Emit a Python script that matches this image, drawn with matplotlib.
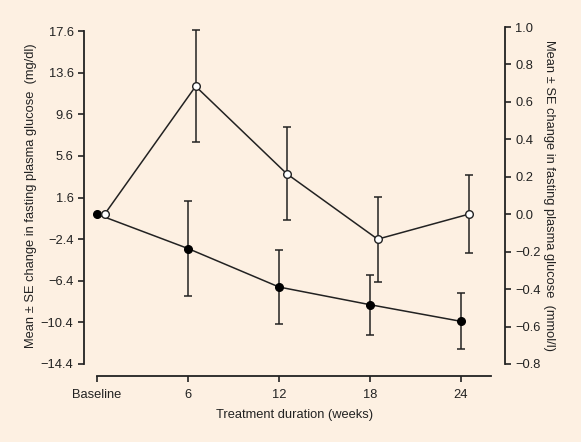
import numpy as np
import matplotlib.pyplot as plt

plt.rcParams['font.family'] = ['Liberation Sans', 'DejaVu Sans']

weeks = [0, 6, 12, 18, 24]
tick_labels = ['Baseline', '6', '12', '18', '24']

# filled circles (mg/dl)
filled_mean = [0.0, -3.3, -7.0, -8.7, -10.3]
filled_err = [0.0, 4.6, 3.55, 2.9, 2.7]

# open circles (mg/dl)
open_mean = [0.0, 12.3, 3.9, -2.4, 0.0]
open_err = [0.0, 5.4, 4.5, 4.1, 3.75]

bg = '#fdf0e2'
ink = '#222222'
fs = 9.3
fig = plt.figure(figsize=(5.81, 4.42), dpi=100, facecolor=bg)
ax = fig.add_axes([0.1446, 0.1765, 0.7246, 0.7624])
ax.set_facecolor(bg)

x = np.array(weeks, dtype=float)
xo = x + 0.5  # open circles drawn slightly right of the tick

ax.errorbar(x[1:], filled_mean[1:], yerr=filled_err[1:], fmt='none',
            ecolor=ink, elinewidth=1.1, capsize=3, capthick=1.1, zorder=2)
ax.errorbar(xo[1:], open_mean[1:], yerr=open_err[1:], fmt='none',
            ecolor=ink, elinewidth=1.1, capsize=3, capthick=1.1, zorder=2)
ax.plot(x, filled_mean, '-o', color=ink, lw=1.1, ms=5.5,
        mfc='black', mec='black', zorder=3)
ax.plot(xo, open_mean, '-o', color=ink, lw=1.1, ms=5.5,
        mfc='white', mec=ink, mew=1.0, zorder=4)

ax.set_xlim(-0.86, 26.9)
ax.set_ylim(-14.4, 18.0)
yt = np.arange(-14.4, 17.7, 4.0)
ax.set_yticks(yt)
ax.set_yticklabels([f'{v:.1f}'.replace('-', '\u2212') for v in yt])
ax.set_xticks(weeks)
ax.set_xticklabels(tick_labels)

for s in ['top', 'right']:
    ax.spines[s].set_visible(False)
ax.spines['left'].set_bounds(-14.4, 17.6)
ax.spines['bottom'].set_bounds(0, 26)
ax.spines['bottom'].set_position(('outward', 8.6))
for s in ['left', 'bottom']:
    ax.spines[s].set_linewidth(1.3)
    ax.spines[s].set_color(ink)
ax.tick_params(axis='both', labelsize=fs, width=1.2, length=4, color=ink,
               labelcolor=ink)
ax.tick_params(axis='x', pad=5.5)

ax.set_ylabel('Mean \u00b1 SE change in fasting plasma glucose  (mg/dl)',
              fontsize=fs, color=ink, labelpad=3)
ax.set_xlabel('Treatment duration (weeks)', fontsize=fs, color=ink, labelpad=6)

ax2 = ax.twinx()
ax2.set_ylim(-0.8, 1.0)
yt2 = np.arange(-0.8, 1.01, 0.2)
ax2.set_yticks(yt2)
ax2.set_yticklabels([f'{v:.1f}'.replace('-', '\u2212') if abs(v) > 1e-9 else '0.0'
                     for v in yt2])
for s in ['top', 'left', 'bottom']:
    ax2.spines[s].set_visible(False)
ax2.spines['right'].set_bounds(-0.8, 1.0)
ax2.spines['right'].set_linewidth(1.3)
ax2.spines['right'].set_color(ink)
ax2.tick_params(axis='y', labelsize=fs, width=1.2, length=4, color=ink,
                labelcolor=ink)
ax2.set_ylabel('Mean \u00b1 SE change in fasting plasma glucose  (mmol/l)',
               fontsize=fs, color=ink, rotation=270, labelpad=10)

fig.savefig('out.png', dpi=100, facecolor=bg)
